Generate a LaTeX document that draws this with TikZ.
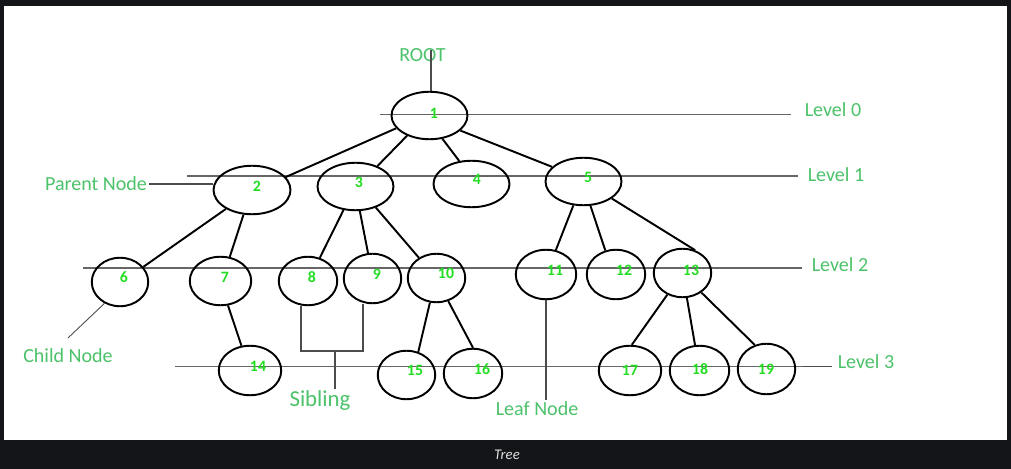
\documentclass[tikz,border=0pt]{standalone}
\usepackage{fontspec}
\setmainfont{Carlito}
\usepackage{tikz}
\usetikzlibrary{shapes.geometric}
\definecolor{framebg}{RGB}{20,21,25}
\definecolor{lblgreen}{RGB}{76,194,106}
\definecolor{numgreen}{RGB}{34,221,34}
\tikzset{
  tn/.style={ellipse,draw=black,line width=1.1pt,inner sep=0pt},
  num/.style={text=numgreen,font=\bfseries\fontsize{9}{10}\selectfont,inner sep=0pt},
  lbl/.style={text=lblgreen,font=\fontsize{11.4}{13}\selectfont,inner sep=1pt},
  edge/.style={line width=1.1pt,draw=black},
  levelline/.style={line width=0.7pt,draw=black!60},
  pointer/.style={line width=0.8pt,draw=black!70},
}

\begin{document}
\begin{tikzpicture}[x=0.02cm,y=-0.02cm]
      \useasboundingbox (0,0) rectangle (1011,469);
      \fill[framebg] (0,0) rectangle (1011,469);
      \fill[white] (4,6) rectangle (1007,440);
      \node[text=white!88!black,font=\itshape\fontsize{8.4}{10}\selectfont] (cap) at (507,455) {Tree};

      % level lines
      \coordinate (l0a) at (380,114.7); \coordinate (l0b) at (791,114.7);
      \coordinate (l1a) at (187,176); \coordinate (l1b) at (798,176);
      \coordinate (l2a) at (83,268); \coordinate (l2b) at (802,268);
      \coordinate (l3a) at (175,366.5); \coordinate (l3b) at (803,366.5); \coordinate (l3c) at (832,366.5);
      \draw[levelline] (l0a) -- (l0b);
      \draw[levelline] (l1a) -- (l1b);
      \draw[levelline] (l2a) -- (l2b);
      \draw[levelline] (l3a) -- (l3b);
      \draw[pointer] (l3b) -- (l3c);
      \node[lbl] (lv0) at (833,110) {Level 0};
      \node[lbl] (lv1) at (836,175) {Level 1};
      \node[lbl] (lv2) at (840,265) {Level 2};
      \node[lbl] (lv3) at (866,362) {Level 3};

      % nodes
      \node[tn,minimum width=15.2mm,minimum height=9.5mm] (n1) at (429.5,115.5) {};
      \node[tn,minimum width=15.4mm,minimum height=9.7mm] (n2) at (252,190) {};
      \node[tn,minimum width=15.2mm,minimum height=9.5mm] (n3) at (355.5,186.5) {};
      \node[tn,minimum width=15.2mm,minimum height=9.3mm] (n4) at (471.5,184) {};
      \node[tn,minimum width=15.2mm,minimum height=9.5mm] (n5) at (583.5,181.5) {};
      \node[tn,minimum width=11.3mm,minimum height=9.7mm] (n6) at (120,282) {};
      \node[tn,minimum width=12.3mm,minimum height=9.7mm] (n7) at (220.5,281) {};
      \node[tn,minimum width=11.7mm,minimum height=9.7mm] (n8) at (308,281) {};
      \node[tn,minimum width=11.5mm,minimum height=9.9mm] (n9) at (372.5,278.5) {};
      \node[tn,minimum width=11.5mm,minimum height=9.7mm] (n10) at (436.5,278) {};
      \node[tn,minimum width=12.1mm,minimum height=9.9mm] (n11) at (546,274.5) {};
      \node[tn,minimum width=11.7mm,minimum height=9.9mm] (n12) at (616,274.5) {};
      \node[tn,minimum width=11.5mm,minimum height=9.7mm] (n13) at (682.5,273) {};
      \node[tn,minimum width=12.5mm,minimum height=9.9mm] (n14) at (250,370.5) {};
      \node[tn,minimum width=11.5mm,minimum height=9.7mm] (n15) at (406.5,375) {};
      \node[tn,minimum width=11.7mm,minimum height=9.9mm] (n16) at (473,373.5) {};
      \node[tn,minimum width=12.5mm,minimum height=9.9mm] (n17) at (630,370.5) {};
      \node[tn,minimum width=11.9mm,minimum height=9.9mm] (n18) at (699.5,370.5) {};
      \node[tn,minimum width=11.5mm,minimum height=10.1mm] (n19) at (766.5,369) {};

      \node[num] (t1) at (434,113) {1};
      \node[num] (t2) at (257,186) {2};
      \node[num] (t3) at (359,182) {3};
      \node[num] (t4) at (477,179) {4};
      \node[num] (t5) at (588,177) {5};
      \node[num] (t6) at (124,277) {6};
      \node[num] (t7) at (225,277) {7};
      \node[num] (t8) at (312,277) {8};
      \node[num] (t9) at (377,274) {9};
      \node[num] (t10) at (446,273) {10};
      \node[num] (t11) at (555,270) {11};
      \node[num] (t12) at (624,270) {12};
      \node[num] (t13) at (691,270) {13};
      \node[num] (t14) at (258,366) {14};
      \node[num] (t15) at (415,370) {15};
      \node[num] (t16) at (482,369) {16};
      \node[num] (t17) at (630,370) {17};
      \node[num] (t18) at (700,369) {18};
      \node[num] (t19) at (766,369) {19};

      % edges
      \draw[edge] (n1.201) -- (n2.21);
      \draw[edge] (n1.222) -- (n3.43);
      \draw[edge] (n1.299) -- (n4.118);
      \draw[edge] (n1.334) -- (n5.155);
      \draw[edge] (n2.216) -- (n6.33);
      \draw[edge] (n2.251) -- (n7.69);
      \draw[edge] (n3.243) -- (n8.63);
      \draw[edge] (n3.280) -- (n9.100);
      \draw[edge] (n3.314) -- (n10.131);
      \draw[edge] (n5.247) -- (n11.68);
      \draw[edge] (n5.286) -- (n12.114);
      \draw[edge] (n5.329) -- (n13.61);
      \draw[edge] (n7.287) -- (n14.109);
      \draw[edge] (n10.255) -- (n15.63);
      \draw[edge] (n10.297) -- (n16.90);
      \draw[edge] (n13.235) -- (n17.86);
      \draw[edge] (n13.280) -- (n18.100);
      \draw[edge] (n13.314) -- (n19.116);

      % annotations
      \node[lbl] (root) at (422.5,55) {ROOT};
      \coordinate (rt) at (431,50);
      \draw[pointer] (rt) -- (rt |- n1.north);
      \node[lbl] (pn) at (96,184) {Parent Node};
      \draw[pointer] (pn.east) -- (n2.west |- pn.east);
      \node[lbl] (cn) at (68,356) {Child Node};
      \coordinate (cn1) at (68,338);
      \draw[pointer,line width=0.5pt] (cn1) -- (n6.234);
      \node[lbl,font=\fontsize{13}{15}\selectfont] (sib) at (320,401) {Sibling};
      \coordinate (sbl) at (301,351); \coordinate (sbr) at (363,351); \coordinate (sbm) at (335,351);
      \draw[pointer] (n8.south -| sbl) -- (sbl) -- (sbr) -- (n9.south -| sbr);
      \draw[pointer] (sbm) -- (sbm |- sib.north);
      \node[lbl] (leaf) at (537,409) {Leaf Node};
      \draw[pointer] (n11.south) -- (n11.south |- leaf.north);
    \end{tikzpicture}
\end{document}
